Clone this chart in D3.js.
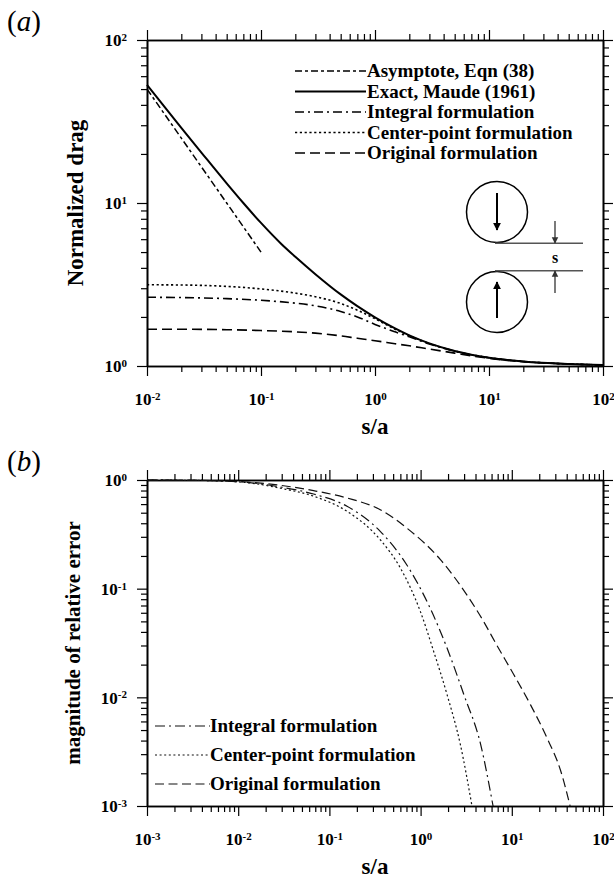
<!DOCTYPE html>
<html><head><meta charset="utf-8">
<script src="https://cdn.jsdelivr.net/npm/d3@7"></script>
<style>
body{margin:0;background:#fff;}
svg{display:block;}
text{font-family:"Liberation Serif","Times New Roman",serif;}
</style></head><body>
<script>
// ---------- DATA ----------
// Panel (a): normalized drag vs s/a
const asymS = [0.01, 0.02, 0.05, 0.1];
const asymDrag = [50, 25, 10, 5];
const exactS = [0.01,0.02,0.03,0.05,0.07,0.1,0.15,0.2,0.3,0.5,0.7,1,1.5,2,3,5,7,10,20,50,100];
const exactDrag = [53,28.9,20.4,13.2,10.0,7.55,5.63,4.68,3.66,2.75,2.33,1.99,1.70,1.542,1.377,1.237,1.174,1.125,1.066,1.029,1.015];
const formS = [0.01,0.02,0.05,0.1,0.2,0.3,0.5,0.7,1,1.5,2,3,5,7,10,20,50,100];
const integralDrag = [2.64,2.63,2.59,2.53,2.43,2.34,2.16,2.0,1.8,1.62,1.51,1.365,1.235,1.172,1.124,1.066,1.029,1.015];
const centerDrag = [3.15,3.14,3.08,2.97,2.8,2.66,2.42,2.2,1.95,1.68,1.535,1.373,1.236,1.173,1.124,1.066,1.029,1.015];
const originalDrag = [1.68,1.68,1.67,1.65,1.62,1.59,1.53,1.48,1.43,1.37,1.33,1.27,1.2,1.155,1.115,1.062,1.028,1.014];
const legendA = ["Asymptote, Eqn (38)","Exact, Maude (1961)","Integral formulation","Center-point formulation","Original formulation"];

// Panel (b): magnitude of relative error vs s/a
const integralErrS = [0.001,0.004,0.0125,0.029,0.067,0.156,0.361,0.704,1.27,1.95,2.98,4.56,6.23];
const integralErr  = [0.998,0.99,0.952,0.862,0.743,0.573,0.337,0.166,0.0664,0.0284,0.0106,0.00367,0.001];
const centerErrS = [0.001,0.004,0.0125,0.029,0.067,0.156,0.361,0.6,0.993,1.39,1.95,2.73,3.66];
const centerErr  = [0.998,0.99,0.945,0.84,0.71,0.515,0.282,0.155,0.0618,0.0265,0.0106,0.00367,0.001];
const originalErrS = [0.001,0.004,0.0125,0.029,0.067,0.156,0.361,0.704,1.65,3.2,4.9,6.8,10.5,16,24.3,34.4,43.6];
const originalErr  = [0.998,0.992,0.958,0.893,0.798,0.683,0.533,0.362,0.185,0.0881,0.05,0.0305,0.0162,0.00857,0.00423,0.0021,0.001];
const legendB = ["Integral formulation","Center-point formulation","Original formulation"];

const xTicksA = [0.01,0.1,1,10,100];
const yTicksA = [1,10,100];
const xTicksB = [0.001,0.01,0.1,1,10,100];
const yTicksB = [0.001,0.01,0.1,1];

// ---------- DRAWING ----------
const W = 614, H = 882;
const svg = d3.select("body").append("svg").attr("width", W).attr("height", H);

function minors(majors){
  const out = [];
  for (let i = 0; i < majors.length - 1; i++)
    for (let k = 2; k <= 9; k++) out.push(majors[i] * k);
  return out;
}
function supLabels(sel){
  sel.each(function(d){
    const t = d3.select(this);
    const e = Math.round(Math.log10(d));
    t.text(null);
    t.append("tspan").text("10");
    t.append("tspan").attr("dy","-0.5em").attr("font-size","11px").text(String(e));
  });
}
function styleAxis(g){
  g.attr("font-family", null).attr("font-size", null);
  g.select(".domain").attr("stroke","#000").attr("stroke-width",1.6);
  g.selectAll(".tick line").attr("stroke","#000").attr("stroke-width",1.2);
}
function frame(x, y, xMaj, yMaj){
  const [x0, x1] = x.range(), [y0, y1] = y.range();
  const g = svg.append("g");
  g.append("g").attr("transform",`translate(0,${y0})`).call(d3.axisBottom(x).tickValues(minors(xMaj)).tickSize(6).tickSizeOuter(0).tickFormat("")).call(styleAxis);
  g.append("g").attr("transform",`translate(0,${y1})`).call(d3.axisTop(x).tickValues(minors(xMaj)).tickSize(6).tickSizeOuter(0).tickFormat("")).call(styleAxis);
  g.append("g").attr("transform",`translate(${x0},0)`).call(d3.axisLeft(y).tickValues(minors(yMaj)).tickSize(6).tickSizeOuter(0).tickFormat("")).call(styleAxis);
  g.append("g").attr("transform",`translate(${x1},0)`).call(d3.axisRight(y).tickValues(minors(yMaj)).tickSize(6).tickSizeOuter(0).tickFormat("")).call(styleAxis);
  const b = g.append("g").attr("transform",`translate(0,${y0})`).call(d3.axisBottom(x).tickValues(xMaj).tickSize(10).tickSizeOuter(0)).call(styleAxis);
  b.selectAll("text").attr("y", 39).attr("dy", null).attr("fill","#000").attr("font-size","17px").attr("font-weight","bold").call(supLabels);
  g.append("g").attr("transform",`translate(0,${y1})`).call(d3.axisTop(x).tickValues(xMaj).tickSize(10).tickSizeOuter(0).tickFormat("")).call(styleAxis);
  const l = g.append("g").attr("transform",`translate(${x0},0)`).call(d3.axisLeft(y).tickValues(yMaj).tickSize(10).tickPadding(10).tickSizeOuter(0)).call(styleAxis);
  l.selectAll("text").attr("fill","#000").attr("font-size","17px").attr("font-weight","bold").attr("dy","0.35em").call(supLabels);
  g.append("g").attr("transform",`translate(${x1},0)`).call(d3.axisRight(y).tickValues(yMaj).tickSize(10).tickSizeOuter(0).tickFormat("")).call(styleAxis);
}
function curve(x, y, xs, ys, dash, w, color){
  const line = d3.line().x(d => x(d[0])).y(d => y(d[1])).curve(d3.curveMonotoneX);
  svg.append("path").datum(xs.map((v,i)=>[v, ys[i]]))
    .attr("d", line).attr("fill","none").attr("stroke", color || "#000")
    .attr("stroke-width", w).attr("stroke-dasharray", dash);
}

// ===== Panel (a) =====
const xA = d3.scaleLog().domain([0.01,100]).range([147,603]);
const yA = d3.scaleLog().domain([1,100]).range([366,40]);
frame(xA, yA, xTicksA, yTicksA);

const stylesA = [
  {dash:"7,3,3,3", w:1.5},
  {dash:null, w:2},
  {dash:"9,4,2,4", w:1.6},
  {dash:"2.2,2.6", w:1.6},
  {dash:"10,5", w:1.6}
];
curve(xA, yA, asymS, asymDrag, stylesA[0].dash, stylesA[0].w);
curve(xA, yA, exactS, exactDrag, stylesA[1].dash, stylesA[1].w);
curve(xA, yA, formS, integralDrag, stylesA[2].dash, stylesA[2].w);
curve(xA, yA, formS, centerDrag, stylesA[3].dash, stylesA[3].w);
curve(xA, yA, formS, originalDrag, stylesA[4].dash, stylesA[4].w);

const legA = svg.append("g");
legendA.forEach((name, i) => {
  const yy = 71 + i * 20.5;
  legA.append("line").attr("x1",295).attr("x2",366).attr("y1",yy).attr("y2",yy)
    .attr("stroke","#000").attr("stroke-width",stylesA[i].w).attr("stroke-dasharray",stylesA[i].dash);
  legA.append("text").attr("x",367).attr("y",yy).attr("dy","0.34em")
    .attr("font-size","19px").attr("font-weight","bold").text(name);
});

// inset sketch
const ins = svg.append("g");
const defs = svg.append("defs");
defs.append("marker").attr("id","headB").attr("viewBox","0 0 10 10").attr("refX",9).attr("refY",5)
  .attr("markerWidth",4).attr("markerHeight",6).attr("markerUnits","strokeWidth").attr("orient","auto")
  .append("path").attr("d","M0,0L10,5L0,10z").attr("fill","#000");
defs.append("marker").attr("id","headG").attr("viewBox","0 0 10 10").attr("refX",9).attr("refY",5)
  .attr("markerWidth",5).attr("markerHeight",6).attr("markerUnits","strokeWidth").attr("orient","auto")
  .append("path").attr("d","M0,0L10,5L0,10z").attr("fill","#333");
ins.append("circle").attr("cx",497).attr("cy",212).attr("r",30.5).attr("fill","none").attr("stroke","#000").attr("stroke-width",1.5);
ins.append("circle").attr("cx",497).attr("cy",302).attr("r",30.5).attr("fill","none").attr("stroke","#000").attr("stroke-width",1.5);
ins.append("line").attr("x1",497).attr("x2",497).attr("y1",193).attr("y2",230).attr("stroke","#000").attr("stroke-width",2).attr("marker-end","url(#headB)");
ins.append("line").attr("x1",497).attr("x2",497).attr("y1",318).attr("y2",282).attr("stroke","#000").attr("stroke-width",2).attr("marker-end","url(#headB)");
ins.append("line").attr("x1",495).attr("x2",583).attr("y1",243.3).attr("y2",243.3).attr("stroke","#555").attr("stroke-width",1.4);
ins.append("line").attr("x1",495).attr("x2",583).attr("y1",270.7).attr("y2",270.7).attr("stroke","#555").attr("stroke-width",1.4);
ins.append("line").attr("x1",555).attr("x2",555).attr("y1",221).attr("y2",243).attr("stroke","#333").attr("stroke-width",1.3).attr("marker-end","url(#headG)");
ins.append("line").attr("x1",555).attr("x2",555).attr("y1",293).attr("y2",271).attr("stroke","#333").attr("stroke-width",1.3).attr("marker-end","url(#headG)");
ins.append("text").attr("x",555).attr("y",263).attr("text-anchor","middle").attr("font-size","16px").attr("font-weight","bold").text("s");

svg.append("text").attr("transform","translate(83,203) rotate(-90)").attr("text-anchor","middle")
  .attr("font-size","23px").attr("font-weight","bold").text("Normalized drag");
svg.append("text").attr("x",375).attr("y",434).attr("text-anchor","middle")
  .attr("font-size","23px").attr("font-weight","bold").text("s/a");
const la = svg.append("text").attr("x",7).attr("y",31).attr("font-size","29px");
la.append("tspan").text("(");
la.append("tspan").attr("font-style","italic").text("a");
la.append("tspan").text(")");

// ===== Panel (b) =====
const xB = d3.scaleLog().domain([0.001,100]).range([147,603]);
const yB = d3.scaleLog().domain([0.001,1]).range([806,480]);
frame(xB, yB, xTicksB, yTicksB);

const stylesB = [
  {dash:"10,4,2,4", w:1.2},
  {dash:"2,2.6", w:1.2},
  {dash:"9,4.5", w:1.2}
];
curve(xB, yB, integralErrS, integralErr, stylesB[0].dash, stylesB[0].w, "#111");
curve(xB, yB, centerErrS, centerErr, stylesB[1].dash, stylesB[1].w, "#111");
curve(xB, yB, originalErrS, originalErr, stylesB[2].dash, stylesB[2].w, "#111");

const legB = svg.append("g");
legendB.forEach((name, i) => {
  const yy = 726 + i * 29;
  legB.append("line").attr("x1",155).attr("x2",210).attr("y1",yy).attr("y2",yy)
    .attr("stroke","#111").attr("stroke-width",stylesB[i].w).attr("stroke-dasharray",stylesB[i].dash);
  legB.append("text").attr("x",210).attr("y",yy).attr("dy","0.34em")
    .attr("font-size","19px").attr("font-weight","bold").text(name);
});

svg.append("text").attr("transform","translate(80,643) rotate(-90)").attr("text-anchor","middle")
  .attr("font-size","21px").attr("font-weight","bold").text("magnitude of relative error");
svg.append("text").attr("x",375).attr("y",874).attr("text-anchor","middle")
  .attr("font-size","23px").attr("font-weight","bold").text("s/a");
const lb = svg.append("text").attr("x",7).attr("y",471).attr("font-size","29px");
lb.append("tspan").text("(");
lb.append("tspan").attr("font-style","italic").text("b");
lb.append("tspan").text(")");
</script>
</body></html>
